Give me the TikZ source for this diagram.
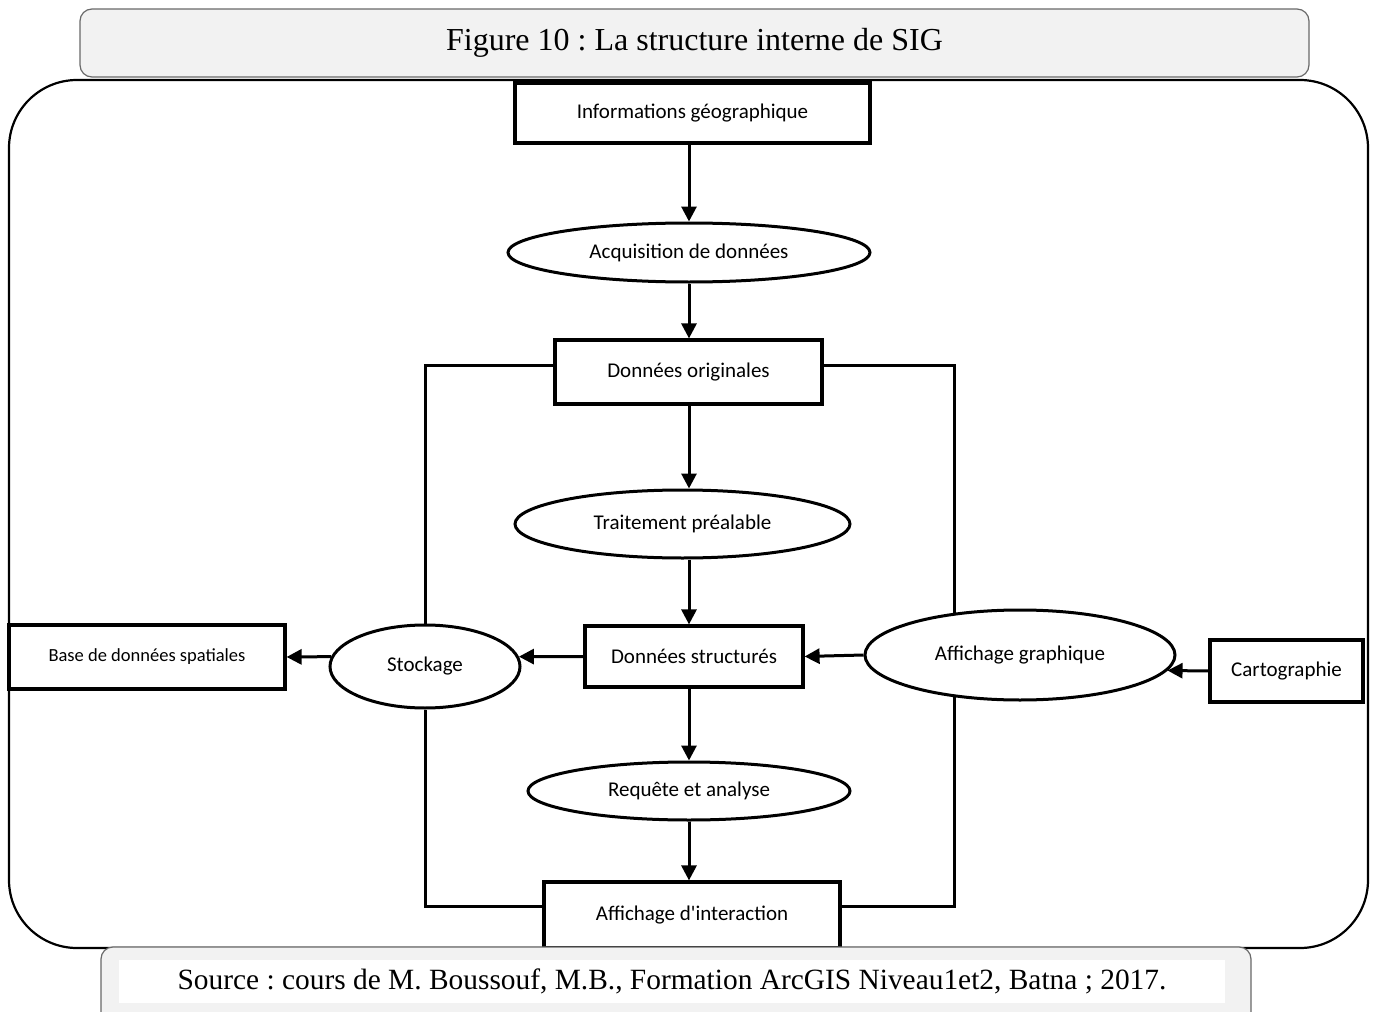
\documentclass[tikz,border=0pt]{standalone}
\usepackage{fontspec}
\setmainfont{Liberation Serif}
\newfontfamily\labelfont{Carlito}
\usepackage{xcolor}
\definecolor{panelgray}{RGB}{242,242,242}
\definecolor{rimgray}{RGB}{105,105,105}
\usetikzlibrary{arrows.meta, positioning, shapes.geometric}
\frenchspacing

\begin{document}
\begin{tikzpicture}[x=0.5pt, y=-0.5pt, >={Triangle[length=7.5pt, width=7.5pt]},
    stepbox/.style={draw, line width=1.6pt, rectangle, inner sep=0pt, font=\labelfont\fontsize{10.5}{12}\selectfont},
    stepoval/.style={draw, line width=1.5pt, ellipse, inner sep=0pt, font=\labelfont\fontsize{10.5}{12}\selectfont},
    flow/.style={->, line width=1.5pt},
    loopline/.style={line width=1.5pt},
    panel/.style={draw=rimgray, line width=0.6pt, fill=panelgray, rounded corners=6pt}]
    \useasboundingbox (0,0) rectangle (1373,1012);
    \clip (0,0) rectangle (1373,1012);

    % title and outer frame
    \node[panel, minimum width=614.5pt, minimum height=34pt, font=\fontsize{16}{19}\selectfont] (title) at (694.5,43) {Figure 10 : La structure interne de SIG};
    \draw[line width=1.1pt, rounded corners=34pt] (9,80) rectangle (1368,948);

    % central column
    \coordinate (spine) at (689,0);
    \node[stepbox, minimum width=177.5pt, minimum height=30pt] (info) at (692.5,113) {Informations géographique};
    \node[stepoval, minimum width=181pt, minimum height=29.5pt] (acq) at (689,252.5) {Acquisition de données};
    \node[stepbox, minimum width=133.5pt, minimum height=32pt] (orig) at (688.5,372) {Données originales};
    \node[stepoval, minimum width=167.5pt, minimum height=34pt] (trait) at (682.5,524) {Traitement préalable};
    \node[stepbox, minimum width=109pt, minimum height=30.5pt] (struct) at (694,656.5) {Données structurés};
    \node[stepoval, minimum width=161pt, minimum height=29pt] (req) at (689,791) {Requête et analyse};
    \node[stepbox, minimum width=148pt, minimum height=33pt] (inter) at (692,915) {Affichage d'interaction};

    % side nodes
    \node[stepoval, minimum width=95pt, minimum height=41.5pt] (stock) at (425,666.5) {Stockage};
    \node[stepbox, minimum width=138pt, minimum height=32pt, font=\labelfont\fontsize{9.25}{11}\selectfont] (base) at (147,657) {Base de données spatiales};
    \node[stepoval, minimum width=155pt, minimum height=45pt] (graph) at (1020,655) {Affichage graphique};
    \node[stepbox, minimum width=76.5pt, minimum height=31pt] (carto) at (1286.5,671) {Cartographie};

    \draw[flow] (info.south -| spine) -- (acq.north -| spine);
    \draw[flow] (acq.south -| spine) -- (orig.north -| spine);
    \draw[flow] (orig.south -| spine) -- (trait.north -| spine);
    \draw[flow] (trait.south -| spine) -- (struct.north -| spine);
    \draw[flow] (struct.south -| spine) -- (req.north -| spine);
    \draw[flow] (req.south -| spine) -- (inter.north -| spine);

    \draw[loopline] ([yshift=3.5pt]orig.west) -| (stock.north);
    \draw[loopline] (stock.south) |- ([yshift=4.5pt]inter.west);
    \draw[loopline] ([yshift=3.5pt]orig.east) -| (graph.147);
    \draw[loopline] (graph.213) |- ([yshift=4.5pt]inter.east);

    \draw[flow] (struct.west) -- (stock.6);
    \draw[flow] (stock.174) -- (base.east);
    \draw[flow] (graph.west) -- (struct.east);
    \draw[flow] (carto.west) -- (graph.-6);

    % source
    \draw[panel] (101,947) rectangle (1251,1040);
    \node[fill=white, minimum width=553pt, minimum height=21.5pt, inner sep=0pt, font=\fontsize{14.7}{17}\selectfont] (src) at (672,981.5) {Source : cours de M. Boussouf, M.B., Formation ArcGIS Niveau1et2, Batna ; 2017.};
\end{tikzpicture}
\end{document}
